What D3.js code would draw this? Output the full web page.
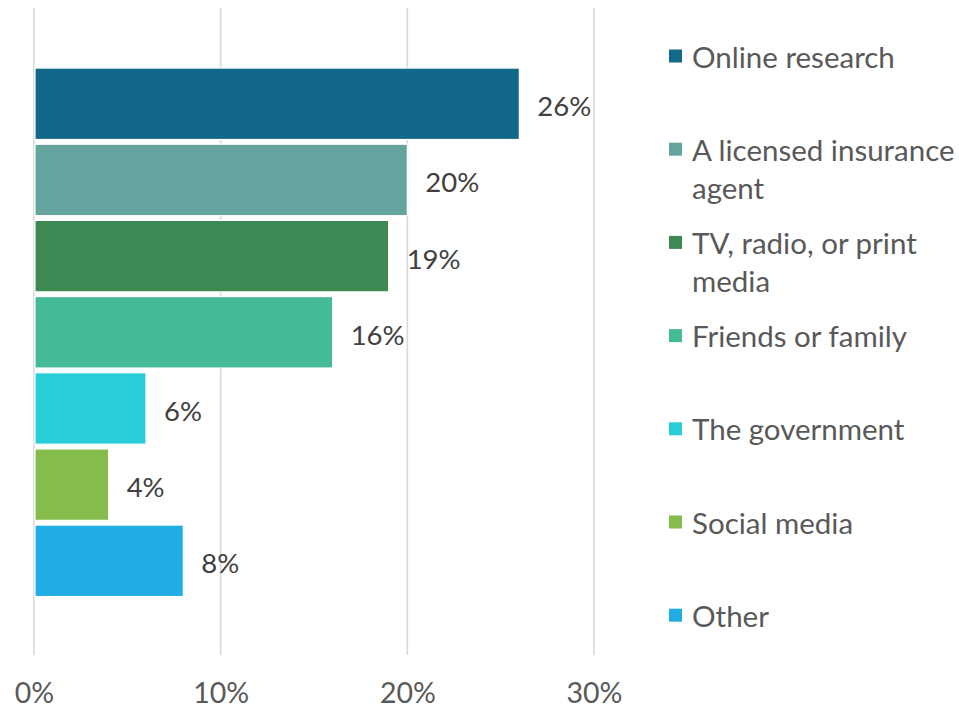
<!DOCTYPE html>
<html>
<head>
<meta charset="utf-8">
<script src="https://cdn.jsdelivr.net/npm/d3@7"></script>
<style>
  html, body { margin: 0; padding: 0; background: #fff; }
  svg { display: block; font-family: Lato, "Open Sans", sans-serif; }
</style>
</head>
<body>
<svg id="chart" width="959" height="708"></svg>
<script>
// Where people get information: share of respondents by source
const sources = [
  "Online research",
  "A licensed insurance agent",
  "TV, radio, or print media",
  "Friends or family",
  "The government",
  "Social media",
  "Other"
];
const shares = [26, 20, 19, 16, 6, 4, 8];
const colors = ["#126889", "#65A39E", "#3E8853", "#44BB96", "#29CDD7", "#84BD4B", "#1FADE4"];
const xTicks = [0, 10, 20, 30];

const svg = d3.select("#chart");

const plot = { left: 34, right: 594, top: 8, bottom: 655 };

const x = d3.scaleLinear().domain([0, 30]).range([plot.left, plot.right]);
const y = d3.scaleBand()
  .domain(sources)
  .range([65.7, 598.9])
  .paddingInner(0.062)
  .paddingOuter(0.031);

// vertical gridlines
svg.append("g")
  .selectAll("line")
  .data(xTicks)
  .join("line")
  .attr("x1", d => x(d)).attr("x2", d => x(d))
  .attr("y1", plot.top).attr("y2", plot.bottom)
  .attr("stroke", "#d9d9d9")
  .attr("stroke-width", 1.6);

// x axis tick labels
const xAxis = d3.axisBottom(x)
  .tickValues(xTicks)
  .tickFormat(d => d + "%")
  .tickSize(0)
  .tickPadding(0);
const ax = svg.append("g")
  .attr("transform", `translate(0, 683)`)
  .call(xAxis);
ax.select(".domain").remove();
ax.selectAll("text")
  .attr("font-family", "Lato, 'Open Sans', sans-serif")
  .attr("font-size", 28.5)
  .attr("fill", "#595959")
  .attr("dy", "0.71em");

// bars
svg.append("g")
  .selectAll("rect")
  .data(sources)
  .join("rect")
  .attr("x", x(0) + 1)
  .attr("y", d => y(d))
  .attr("width", (d, i) => x(shares[i]) - x(0) - 1)
  .attr("height", y.bandwidth())
  .attr("fill", (d, i) => colors[i])
  .attr("stroke", "#ffffff")
  .attr("stroke-width", 1.2);

// value labels
svg.append("g")
  .selectAll("text")
  .data(sources)
  .join("text")
  .attr("x", (d, i) => x(shares[i]) + 18)
  .attr("y", d => y(d) + y.bandwidth() / 2 + 2)
  .attr("dominant-baseline", "central")
  .attr("font-size", 27.5)
  .attr("fill", "#404040")
  .text((d, i) => shares[i] + "%");

// legend
const legendX = 669;
const legendStep = 93.2;
const legendTop = 56;
const lineH = 38;
const maxTextW = 272;

const legend = svg.append("g");
sources.forEach((name, i) => {
  const g = legend.append("g");
  const t = g.append("text")
    .attr("font-size", 29.5)
    .attr("fill", "#595959");
  // wrap words into lines that fit the legend column
  const words = name.split(" ");
  const lines = [];
  let cur = "";
  const probe = t.append("tspan");
  words.forEach(w => {
    const test = cur ? cur + " " + w : w;
    probe.text(test);
    if (probe.node().getComputedTextLength() > maxTextW && cur) {
      lines.push(cur);
      cur = w;
    } else {
      cur = test;
    }
  });
  lines.push(cur);
  probe.remove();
  const firstY = legendTop + i * legendStep;
  lines.forEach((ln, j) => {
    t.append("tspan")
      .attr("x", legendX + 23)
      .attr("y", firstY + j * lineH)
      .attr("dominant-baseline", "central")
      .text(ln);
  });
  g.append("rect")
    .attr("x", legendX)
    .attr("y", firstY - 6.5)
    .attr("width", 13)
    .attr("height", 13)
    .attr("fill", colors[i]);
});
</script>
</body>
</html>
